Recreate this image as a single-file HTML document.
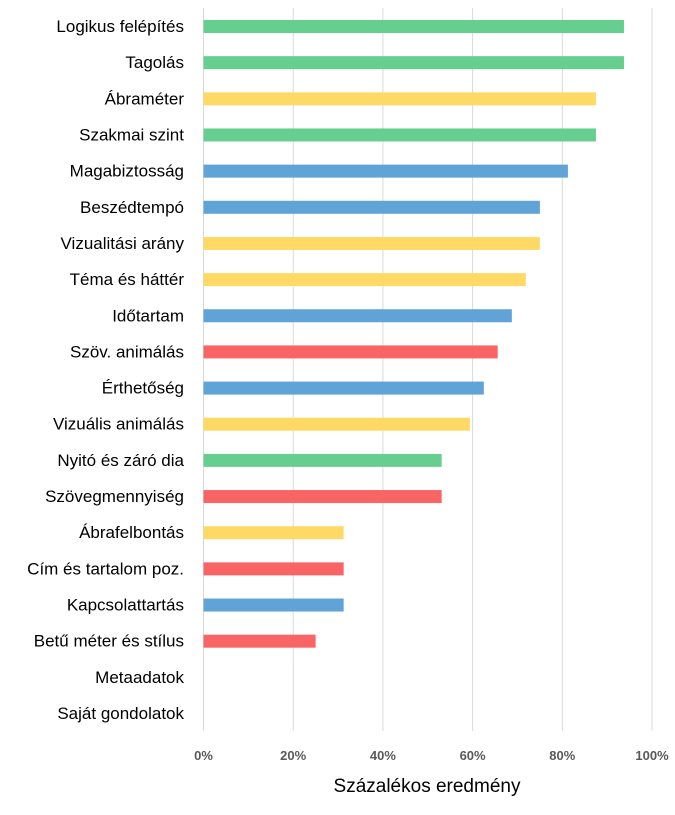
<!DOCTYPE html>
<html><head><meta charset="utf-8"><style>
html,body{margin:0;padding:0;background:#fff;}
svg{display:block;font-family:"Liberation Sans",Arial,sans-serif;}
</style></head><body>
<svg id="chart" width="675" height="815" viewBox="0 0 675 815" xmlns="http://www.w3.org/2000/svg">
<g id="grid"></g>
<g id="bars"></g>
<g id="ylabels"></g>
<g id="xlabels"></g>
<text x="427" y="792" text-anchor="middle" font-size="19" fill="#000">Százalékos eredmény</text>
</svg>
<script>
const categories = ["Logikus felépítés","Tagolás","Ábraméter","Szakmai szint","Magabiztosság","Beszédtempó","Vizualitási arány","Téma és háttér","Időtartam","Szöv. animálás","Érthetőség","Vizuális animálás","Nyitó és záró dia","Szövegmennyiség","Ábrafelbontás","Cím és tartalom poz.","Kapcsolattartás","Betű méter és stílus","Metaadatok","Saját gondolatok"];
const values = [93.75,93.75,87.5,87.5,81.25,75,75,71.875,68.75,65.6,62.5,59.4,53.1,53.1,31.25,31.25,31.25,25,0,0];
const groups = ["green","green","yellow","green","blue","blue","yellow","yellow","blue","red","blue","yellow","green","red","yellow","red","blue","red","none","none"];
const tickValues = [0,20,40,60,80,100];
const tickLabels = ["0%","20%","40%","60%","80%","100%"];
const colors = {green:"#66cf90",yellow:"#ffd966",blue:"#5fa3d7",red:"#f96464",none:"none"};
const NS="http://www.w3.org/2000/svg";
const x0=203.5, x1=652;
const xScale=v=>x0+(x1-x0)*v/100;
const yTop=26, step=(713-26)/19;
const yScale=i=>yTop+i*step;
const grid=document.getElementById('grid'), bars=document.getElementById('bars'), yl=document.getElementById('ylabels'), xl=document.getElementById('xlabels');
tickValues.forEach((t,i)=>{
  const l=document.createElementNS(NS,'line');
  
  
  l.setAttribute('x1',xScale(t));l.setAttribute('x2',xScale(t));
  l.setAttribute('y1',8);l.setAttribute('y2',731);
  l.setAttribute('stroke','#d9d9d9');l.setAttribute('stroke-width','1');
  grid.appendChild(l);
  const tx=document.createElementNS(NS,'text');
  
  
  tx.setAttribute('x',xScale(t));tx.setAttribute('y',760);
  tx.setAttribute('text-anchor','middle');tx.setAttribute('font-size','13');
  tx.setAttribute('font-weight','bold');tx.setAttribute('fill','#595959');
  tx.textContent=tickLabels[i];
  xl.appendChild(tx);
});
categories.forEach((c,i)=>{
  const y=yScale(i);
  const t=document.createElementNS(NS,'text');
  
  
  t.setAttribute('x',184);t.setAttribute('y',y+6);
  t.setAttribute('text-anchor','end');t.setAttribute('font-size','17');t.setAttribute('fill','#000');
  t.textContent=c;
  yl.appendChild(t);
  if(values[i]>0){
    const r=document.createElementNS(NS,'rect');
    
    
    r.setAttribute('x',xScale(0));r.setAttribute('y',y-6);
    r.setAttribute('width',xScale(values[i])-xScale(0));r.setAttribute('height',13);
    r.setAttribute('fill',colors[groups[i]]);
    bars.appendChild(r);
  }
});
</script>
</body></html>
